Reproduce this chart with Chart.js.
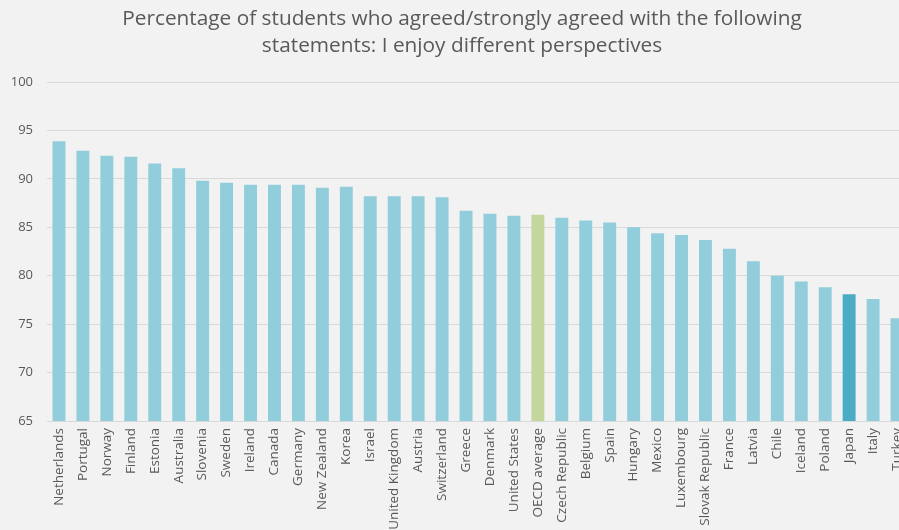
<!DOCTYPE html>
<html>
<head>
<meta charset="utf-8">
<title>I enjoy different perspectives</title>
<script src="https://cdn.jsdelivr.net/npm/chart.js@4/dist/chart.umd.min.js"></script>
<style>
  html, body { margin: 0; padding: 0; background: #f2f2f2; overflow: hidden; }
  .chart { position: relative; width: 924px; height: 560px; }
</style>
</head>
<body>
<div class="chart"><canvas></canvas></div>
<script>
// share of students agreeing / strongly agreeing, per country
const countries = [
  "Netherlands", "Portugal", "Norway", "Finland", "Estonia", "Australia",
  "Slovenia", "Sweden", "Ireland", "Canada", "Germany", "New Zealand",
  "Korea", "Israel", "United Kingdom", "Austria", "Switzerland", "Greece",
  "Denmark", "United States", "OECD average", "Czech Republic", "Belgium",
  "Spain", "Hungary", "Mexico", "Luxembourg", "Slovak Republic", "France",
  "Latvia", "Chile", "Iceland", "Poland", "Japan", "Italy", "Turkey",
];
const agreed = [
  93.9, 92.9, 92.4, 92.3, 91.6, 91.1,
  89.8, 89.6, 89.4, 89.4, 89.4, 89.1,
  89.2, 88.2, 88.2, 88.2, 88.1, 86.7,
  86.4, 86.2, 86.3, 86.0, 85.7,
  85.5, 85.0, 84.4, 84.2, 83.7, 82.8,
  81.5, 80.0, 79.4, 78.8, 78.1, 77.6, 75.6,
];
const yTicks = [65, 70, 75, 80, 85, 90, 95, 100];

const colors = {
  bar: "#92cddc",
  average: "#c3d69b",
  japan: "#4bacc6",
  text: "#595959",
  grid: "#d9d9d9",
};

const barColors = countries.map((c) => {
  if (c === "OECD average") return colors.average;
  if (c === "Japan") return colors.japan;
  return colors.bar;
});

Chart.defaults.font.family = "'Open Sans', 'Noto Sans', sans-serif";
Chart.defaults.color = colors.text;

const ctx = document.querySelector(".chart canvas").getContext("2d");

new Chart(ctx, {
  type: "bar",
  data: {
    labels: countries,
    datasets: [
      {
        data: agreed,
        backgroundColor: barColors,
        borderWidth: 0,
        categoryPercentage: 1,
        barPercentage: 0.54,
      },
    ],
  },
  options: {
    responsive: true,
    maintainAspectRatio: false,
    animation: false,
    layout: {
      padding: 0,
    },
    plugins: {
      legend: { display: false },
      tooltip: { enabled: false },
      title: {
        display: true,
        text: [
          "Percentage of students who agreed/strongly agreed with the following",
          "statements: I enjoy different perspectives",
        ],
        color: colors.text,
        font: { size: 20.8, weight: "normal", lineHeight: 1.3 },
        padding: { top: 6, bottom: 22 },
      },
    },
    scales: {
      x: {
        grid: { display: false, drawTicks: false },
        border: { color: colors.grid, width: 1 },
        ticks: {
          autoSkip: false,
          maxRotation: 90,
          minRotation: 90,
          padding: 7,
          font: { size: 13.5 },
        },
        afterFit: (scale) => {
          scale.height = 139;
        },
      },
      y: {
        min: 65,
        max: 100,
        afterBuildTicks: (scale) => {
          scale.ticks = yTicks.map((v) => ({ value: v }));
        },
        grid: { color: colors.grid, lineWidth: 1, drawTicks: false },
        border: { display: false },
        ticks: {
          padding: 14,
          font: { size: 13 },
        },
        afterFit: (scale) => {
          scale.width = 47;
        },
      },
      // empty right-hand gutter so the title stays centred on the full width
      gutter: {
        position: "right",
        grid: { display: false, drawTicks: false },
        border: { display: false },
        ticks: { display: false },
        afterFit: (scale) => {
          scale.width = 15;
        },
      },
    },
  },
});
</script>
</body>
</html>
